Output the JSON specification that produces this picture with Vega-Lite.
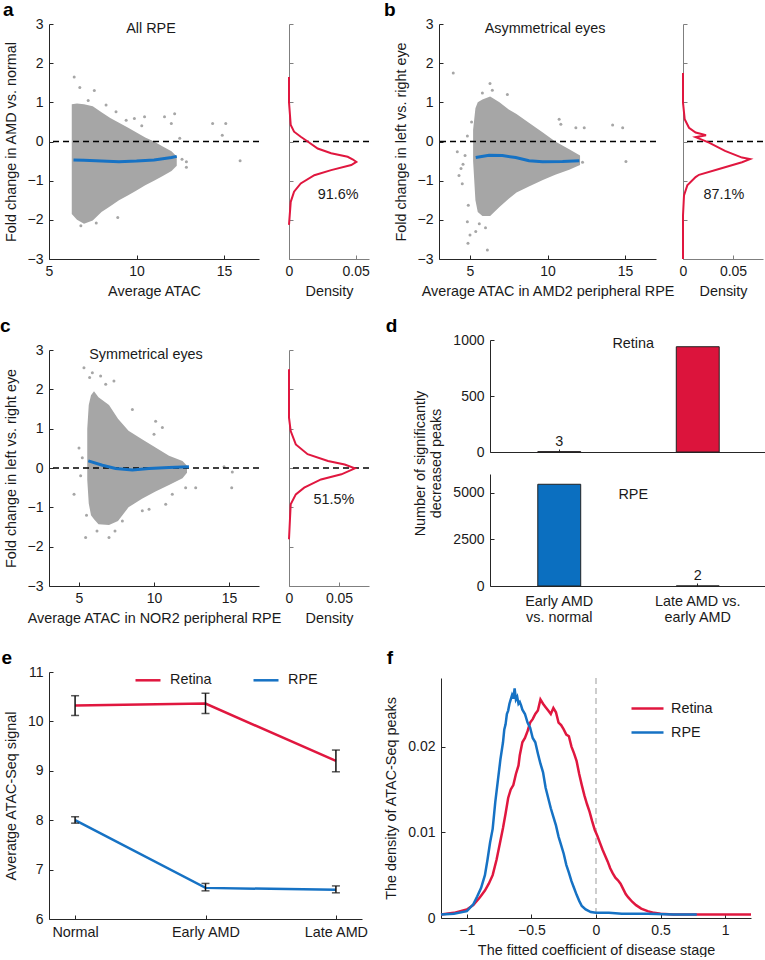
{
  "$schema": "https://vega.github.io/schema/vega-lite/v6.json",
  "padding": {"left": 0, "top": 1, "right": 0, "bottom": 0},
  "background": "white",
  "config": {
    "font": "Liberation Sans",
    "view": {"stroke": null},
    "axis": {"labelOverlap": false, "labelFontSize": 14, "titleFontSize": 14.4, "tickCount": 12},
    "title": {"fontSize": 19, "fontWeight": "bold", "anchor": "start", "frame": "bounds", "color": "black", "baseline": "alphabetic", "offset": -3},
    "legend": {"labelFontSize": 14.4, "labelColor": "#1a1a1a"}
  },
  "resolve": {"scale": {"color": "independent"}, "legend": {"color": "independent"}},
  "datasets": {
    "cloudA": [
      {"x": 6.3, "lo": -1.85, "hi": 0.95}, {"x": 6.6, "lo": -2.0, "hi": 0.97}, {"x": 7.0, "lo": -2.1, "hi": 0.95}, {"x": 7.5, "lo": -2.02, "hi": 0.9},
      {"x": 8.0, "lo": -1.8, "hi": 0.75}, {"x": 8.5, "lo": -1.65, "hi": 0.6}, {"x": 9.0, "lo": -1.5, "hi": 0.48}, {"x": 9.5, "lo": -1.38, "hi": 0.36},
      {"x": 10.0, "lo": -1.25, "hi": 0.23}, {"x": 10.5, "lo": -1.12, "hi": 0.1}, {"x": 11.0, "lo": -1.0, "hi": 0.0}, {"x": 11.5, "lo": -0.88, "hi": -0.13},
      {"x": 12.0, "lo": -0.75, "hi": -0.25}, {"x": 12.3, "lo": -0.62, "hi": -0.38}
    ],
    "outA": [
      {"x": 6.44, "y": 1.65}, {"x": 6.76, "y": 1.38}, {"x": 7.59, "y": 1.3}, {"x": 7.24, "y": 1.05}, {"x": 8.26, "y": 0.93}, {"x": 8.83, "y": 0.76},
      {"x": 9.41, "y": 0.54}, {"x": 9.88, "y": 0.59}, {"x": 10.46, "y": 0.63}, {"x": 11.6, "y": 0.63}, {"x": 12.18, "y": 0.71}, {"x": 12.47, "y": 0.08},
      {"x": 12.85, "y": -0.52}, {"x": 12.85, "y": -0.66}, {"x": 14.35, "y": 0.46}, {"x": 15.1, "y": 0.46}, {"x": 14.9, "y": 0.16}, {"x": 15.92, "y": -0.49},
      {"x": 11.99, "y": 0.46}, {"x": 8.93, "y": -1.94}, {"x": 6.82, "y": -2.15}, {"x": 7.7, "y": -2.08}, {"x": 10.3, "y": 0.4}, {"x": 12.6, "y": -0.45}
    ],
    "loessA": [
      {"x": 6.4, "y": -0.47}, {"x": 7.0, "y": -0.48}, {"x": 8.0, "y": -0.5}, {"x": 9.0, "y": -0.52}, {"x": 10.0, "y": -0.5}, {"x": 11.0, "y": -0.47}, {"x": 12.0, "y": -0.41}, {"x": 12.3, "y": -0.38}
    ],
    "densA": [
      {"d": 0, "fc": 1.65}, {"d": 0, "fc": 1.0}, {"d": 0.0013, "fc": 0.42}, {"d": 0.0038, "fc": 0.25}, {"d": 0.0088, "fc": 0.12}, {"d": 0.014, "fc": 0.0},
      {"d": 0.0215, "fc": -0.18}, {"d": 0.0316, "fc": -0.3}, {"d": 0.044, "fc": -0.39}, {"d": 0.048, "fc": -0.46}, {"d": 0.0505, "fc": -0.52}, {"d": 0.0467, "fc": -0.6},
      {"d": 0.0316, "fc": -0.73}, {"d": 0.019, "fc": -0.86}, {"d": 0.0088, "fc": -1.07}, {"d": 0.0038, "fc": -1.28}, {"d": 0.0013, "fc": -1.54}, {"d": 0, "fc": -2.13}
    ],
    "cloudB": [
      {"x": 5.2, "lo": -0.5, "hi": 0.3}, {"x": 5.35, "lo": -1.5, "hi": 0.85}, {"x": 5.5, "lo": -1.8, "hi": 1.0}, {"x": 5.8, "lo": -1.9, "hi": 1.07},
      {"x": 6.3, "lo": -1.9, "hi": 1.15}, {"x": 6.9, "lo": -1.67, "hi": 1.0}, {"x": 7.5, "lo": -1.46, "hi": 0.82}, {"x": 8.0, "lo": -1.3, "hi": 0.7},
      {"x": 8.8, "lo": -1.15, "hi": 0.48}, {"x": 9.7, "lo": -0.98, "hi": 0.23}, {"x": 10.5, "lo": -0.85, "hi": 0.0}, {"x": 11.4, "lo": -0.72, "hi": -0.2},
      {"x": 12.1, "lo": -0.6, "hi": -0.36}
    ],
    "outB": [
      {"x": 3.92, "y": 1.75}, {"x": 4.18, "y": -0.26}, {"x": 4.68, "y": -0.36}, {"x": 4.83, "y": 0.14}, {"x": 4.55, "y": -0.58}, {"x": 4.42, "y": -0.69},
      {"x": 4.5, "y": -1.08}, {"x": 4.29, "y": -0.87}, {"x": 4.89, "y": -1.63}, {"x": 4.83, "y": -2.05}, {"x": 5.0, "y": -2.39}, {"x": 4.87, "y": -2.6},
      {"x": 6.12, "y": -2.77}, {"x": 5.37, "y": -2.3}, {"x": 6.29, "y": 1.48}, {"x": 6.44, "y": 1.31}, {"x": 7.41, "y": 1.2}, {"x": 5.8, "y": 1.24},
      {"x": 10.75, "y": 0.57}, {"x": 10.86, "y": 0.44}, {"x": 11.83, "y": 0.35}, {"x": 12.37, "y": 0.35}, {"x": 14.2, "y": 0.42}, {"x": 14.85, "y": 0.35},
      {"x": 15.06, "y": -0.51}, {"x": 12.26, "y": -0.53}, {"x": 5.6, "y": -2.1}, {"x": 6.0, "y": -2.2}, {"x": 5.1, "y": 0.5}
    ],
    "loessB": [
      {"x": 5.37, "y": -0.41}, {"x": 6.23, "y": -0.35}, {"x": 7.09, "y": -0.36}, {"x": 7.95, "y": -0.41}, {"x": 8.81, "y": -0.49}, {"x": 9.68, "y": -0.52}, {"x": 10.97, "y": -0.51}, {"x": 12.05, "y": -0.49}
    ],
    "densB": [
      {"d": 0, "fc": 1.75}, {"d": 0, "fc": 0.99}, {"d": 0.0017, "fc": 0.57}, {"d": 0.006, "fc": 0.35}, {"d": 0.0126, "fc": 0.23}, {"d": 0.0175, "fc": 0.2},
      {"d": 0.023, "fc": 0.16}, {"d": 0.0126, "fc": 0.11}, {"d": 0.0175, "fc": 0.06}, {"d": 0.026, "fc": -0.03}, {"d": 0.042, "fc": -0.24}, {"d": 0.059, "fc": -0.41},
      {"d": 0.067, "fc": -0.45}, {"d": 0.059, "fc": -0.53}, {"d": 0.036, "fc": -0.7}, {"d": 0.016, "fc": -0.85}, {"d": 0.0126, "fc": -0.91}, {"d": 0.0043, "fc": -1.12},
      {"d": 0.001, "fc": -1.38}, {"d": 0, "fc": -1.89}, {"d": 0, "fc": -3}
    ],
    "cloudC": [
      {"x": 5.55, "lo": -0.3, "hi": 1.0}, {"x": 5.65, "lo": -0.9, "hi": 1.6}, {"x": 5.8, "lo": -1.2, "hi": 1.85}, {"x": 6.0, "lo": -1.3, "hi": 1.95},
      {"x": 6.3, "lo": -1.43, "hi": 1.8}, {"x": 7.0, "lo": -1.45, "hi": 1.6}, {"x": 7.6, "lo": -1.35, "hi": 1.25}, {"x": 8.3, "lo": -1.0, "hi": 0.95},
      {"x": 9.2, "lo": -0.78, "hi": 0.73}, {"x": 10.1, "lo": -0.6, "hi": 0.52}, {"x": 11.0, "lo": -0.43, "hi": 0.31}, {"x": 11.9, "lo": -0.26, "hi": 0.18},
      {"x": 12.2, "lo": -0.12, "hi": 0.06}
    ],
    "outC": [
      {"x": 5.33, "y": 2.55}, {"x": 5.89, "y": 2.42}, {"x": 5.71, "y": 2.3}, {"x": 6.44, "y": 2.34}, {"x": 7.33, "y": 2.21}, {"x": 6.78, "y": 2.13},
      {"x": 8.56, "y": 1.49}, {"x": 10.11, "y": 1.19}, {"x": 10.0, "y": 0.86}, {"x": 10.56, "y": 1.03}, {"x": 4.67, "y": -0.67}, {"x": 5.22, "y": 0.26},
      {"x": 5.11, "y": -0.2}, {"x": 5.44, "y": -1.77}, {"x": 7.0, "y": -1.77}, {"x": 7.89, "y": -1.35}, {"x": 9.22, "y": -1.09}, {"x": 9.67, "y": -1.05},
      {"x": 10.78, "y": -0.92}, {"x": 11.22, "y": -0.67}, {"x": 12.11, "y": -0.5}, {"x": 12.78, "y": -0.5}, {"x": 14.67, "y": 0.03}, {"x": 15.22, "y": -0.1},
      {"x": 15.18, "y": -0.5}, {"x": 5.0, "y": 0.51}, {"x": 6.2, "y": -1.6}, {"x": 7.4, "y": -1.6}, {"x": 5.5, "y": -1.2}
    ],
    "loessC": [
      {"x": 5.62, "y": 0.18}, {"x": 6.56, "y": 0.07}, {"x": 7.44, "y": -0.01}, {"x": 8.56, "y": -0.05}, {"x": 9.67, "y": -0.01}, {"x": 11.0, "y": 0.01}, {"x": 12.33, "y": 0.03}
    ],
    "densC": [
      {"d": 0, "fc": 2.51}, {"d": 0, "fc": 1.28}, {"d": 0.0017, "fc": 0.94}, {"d": 0.0068, "fc": 0.6}, {"d": 0.0186, "fc": 0.35}, {"d": 0.039, "fc": 0.18},
      {"d": 0.0557, "fc": 0.09}, {"d": 0.0659, "fc": -0.01}, {"d": 0.0524, "fc": -0.16}, {"d": 0.032, "fc": -0.29}, {"d": 0.0152, "fc": -0.5}, {"d": 0.0068, "fc": -0.67},
      {"d": 0.0017, "fc": -0.92}, {"d": 0, "fc": -1.81}
    ],
    "retinaBars": [
      {"cmp": "Early AMD vs. normal", "n": 3}, {"cmp": "Late AMD vs. early AMD", "n": 940}
    ],
    "rpeBars": [
      {"cmp": "Early AMD vs. normal", "n": 5450}, {"cmp": "Late AMD vs. early AMD", "n": 2}
    ],
    "signal": [
      {"stage": "Normal", "tissue": "Retina", "mean": 10.32, "lo": 10.12, "hi": 10.52},
      {"stage": "Early AMD", "tissue": "Retina", "mean": 10.36, "lo": 10.16, "hi": 10.57},
      {"stage": "Late AMD", "tissue": "Retina", "mean": 9.2, "lo": 8.98, "hi": 9.42},
      {"stage": "Normal", "tissue": "RPE", "mean": 8.0, "lo": 7.94, "hi": 8.07},
      {"stage": "Early AMD", "tissue": "RPE", "mean": 6.63, "lo": 6.57, "hi": 6.72},
      {"stage": "Late AMD", "tissue": "RPE", "mean": 6.59, "lo": 6.53, "hi": 6.67}
    ],
    "curves": [
      {"tissue": "Retina", "coef": -1.2, "dens": 0.0004}, {"tissue": "Retina", "coef": -1.1, "dens": 0.0006}, {"tissue": "Retina", "coef": -1.0, "dens": 0.001},
      {"tissue": "Retina", "coef": -0.95, "dens": 0.0015}, {"tissue": "Retina", "coef": -0.9, "dens": 0.0024}, {"tissue": "Retina", "coef": -0.86, "dens": 0.0032},
      {"tissue": "Retina", "coef": -0.83, "dens": 0.004}, {"tissue": "Retina", "coef": -0.8, "dens": 0.005}, {"tissue": "Retina", "coef": -0.77, "dens": 0.0068},
      {"tissue": "Retina", "coef": -0.74, "dens": 0.009}, {"tissue": "Retina", "coef": -0.72, "dens": 0.0105}, {"tissue": "Retina", "coef": -0.7, "dens": 0.0122},
      {"tissue": "Retina", "coef": -0.68, "dens": 0.014}, {"tissue": "Retina", "coef": -0.66, "dens": 0.015}, {"tissue": "Retina", "coef": -0.64, "dens": 0.0155},
      {"tissue": "Retina", "coef": -0.62, "dens": 0.0168}, {"tissue": "Retina", "coef": -0.6, "dens": 0.0178}, {"tissue": "Retina", "coef": -0.59, "dens": 0.019},
      {"tissue": "Retina", "coef": -0.57, "dens": 0.0205}, {"tissue": "Retina", "coef": -0.55, "dens": 0.021}, {"tissue": "Retina", "coef": -0.53, "dens": 0.0218},
      {"tissue": "Retina", "coef": -0.51, "dens": 0.0228}, {"tissue": "Retina", "coef": -0.49, "dens": 0.0232}, {"tissue": "Retina", "coef": -0.47, "dens": 0.0238},
      {"tissue": "Retina", "coef": -0.45, "dens": 0.0242}, {"tissue": "Retina", "coef": -0.43, "dens": 0.0255}, {"tissue": "Retina", "coef": -0.41, "dens": 0.025},
      {"tissue": "Retina", "coef": -0.39, "dens": 0.0246}, {"tissue": "Retina", "coef": -0.37, "dens": 0.0242}, {"tissue": "Retina", "coef": -0.35, "dens": 0.0238},
      {"tissue": "Retina", "coef": -0.33, "dens": 0.0245}, {"tissue": "Retina", "coef": -0.31, "dens": 0.024}, {"tissue": "Retina", "coef": -0.29, "dens": 0.0228},
      {"tissue": "Retina", "coef": -0.27, "dens": 0.0225}, {"tissue": "Retina", "coef": -0.25, "dens": 0.022}, {"tissue": "Retina", "coef": -0.23, "dens": 0.0214},
      {"tissue": "Retina", "coef": -0.21, "dens": 0.0212}, {"tissue": "Retina", "coef": -0.19, "dens": 0.02}, {"tissue": "Retina", "coef": -0.17, "dens": 0.0192},
      {"tissue": "Retina", "coef": -0.15, "dens": 0.0183}, {"tissue": "Retina", "coef": -0.13, "dens": 0.0168}, {"tissue": "Retina", "coef": -0.11, "dens": 0.0155},
      {"tissue": "Retina", "coef": -0.09, "dens": 0.0143}, {"tissue": "Retina", "coef": -0.07, "dens": 0.0133}, {"tissue": "Retina", "coef": -0.05, "dens": 0.0124},
      {"tissue": "Retina", "coef": -0.03, "dens": 0.0113}, {"tissue": "Retina", "coef": -0.01, "dens": 0.0103}, {"tissue": "Retina", "coef": 0.01, "dens": 0.0096},
      {"tissue": "Retina", "coef": 0.03, "dens": 0.0088}, {"tissue": "Retina", "coef": 0.05, "dens": 0.008}, {"tissue": "Retina", "coef": 0.07, "dens": 0.0073},
      {"tissue": "Retina", "coef": 0.09, "dens": 0.0066}, {"tissue": "Retina", "coef": 0.11, "dens": 0.0058}, {"tissue": "Retina", "coef": 0.13, "dens": 0.0052},
      {"tissue": "Retina", "coef": 0.15, "dens": 0.0047}, {"tissue": "Retina", "coef": 0.17, "dens": 0.0044}, {"tissue": "Retina", "coef": 0.19, "dens": 0.004},
      {"tissue": "Retina", "coef": 0.21, "dens": 0.0034}, {"tissue": "Retina", "coef": 0.23, "dens": 0.0028}, {"tissue": "Retina", "coef": 0.25, "dens": 0.0024},
      {"tissue": "Retina", "coef": 0.28, "dens": 0.0019}, {"tissue": "Retina", "coef": 0.31, "dens": 0.0015}, {"tissue": "Retina", "coef": 0.35, "dens": 0.0011},
      {"tissue": "Retina", "coef": 0.4, "dens": 0.0008}, {"tissue": "Retina", "coef": 0.45, "dens": 0.0006}, {"tissue": "Retina", "coef": 0.5, "dens": 0.0005},
      {"tissue": "Retina", "coef": 0.6, "dens": 0.0004}, {"tissue": "Retina", "coef": 0.8, "dens": 0.0004}, {"tissue": "Retina", "coef": 1.0, "dens": 0.0004},
      {"tissue": "Retina", "coef": 1.2, "dens": 0.0004},
      {"tissue": "RPE", "coef": -1.2, "dens": 0.0004}, {"tissue": "RPE", "coef": -1.1, "dens": 0.0005}, {"tissue": "RPE", "coef": -1.0, "dens": 0.0008},
      {"tissue": "RPE", "coef": -0.95, "dens": 0.0016}, {"tissue": "RPE", "coef": -0.92, "dens": 0.0025}, {"tissue": "RPE", "coef": -0.89, "dens": 0.0035},
      {"tissue": "RPE", "coef": -0.86, "dens": 0.005}, {"tissue": "RPE", "coef": -0.84, "dens": 0.0068}, {"tissue": "RPE", "coef": -0.82, "dens": 0.0088},
      {"tissue": "RPE", "coef": -0.8, "dens": 0.0104}, {"tissue": "RPE", "coef": -0.78, "dens": 0.0135}, {"tissue": "RPE", "coef": -0.76, "dens": 0.016},
      {"tissue": "RPE", "coef": -0.74, "dens": 0.0185}, {"tissue": "RPE", "coef": -0.72, "dens": 0.0205}, {"tissue": "RPE", "coef": -0.71, "dens": 0.022},
      {"tissue": "RPE", "coef": -0.7, "dens": 0.0226}, {"tissue": "RPE", "coef": -0.69, "dens": 0.0238}, {"tissue": "RPE", "coef": -0.68, "dens": 0.0242},
      {"tissue": "RPE", "coef": -0.67, "dens": 0.025}, {"tissue": "RPE", "coef": -0.66, "dens": 0.0255}, {"tissue": "RPE", "coef": -0.65, "dens": 0.026},
      {"tissue": "RPE", "coef": -0.64, "dens": 0.0256}, {"tissue": "RPE", "coef": -0.63, "dens": 0.0268}, {"tissue": "RPE", "coef": -0.62, "dens": 0.0255},
      {"tissue": "RPE", "coef": -0.61, "dens": 0.0258}, {"tissue": "RPE", "coef": -0.6, "dens": 0.025}, {"tissue": "RPE", "coef": -0.59, "dens": 0.0252},
      {"tissue": "RPE", "coef": -0.58, "dens": 0.0248}, {"tissue": "RPE", "coef": -0.57, "dens": 0.0243}, {"tissue": "RPE", "coef": -0.55, "dens": 0.0238},
      {"tissue": "RPE", "coef": -0.53, "dens": 0.0228}, {"tissue": "RPE", "coef": -0.51, "dens": 0.0222}, {"tissue": "RPE", "coef": -0.49, "dens": 0.021},
      {"tissue": "RPE", "coef": -0.47, "dens": 0.0205}, {"tissue": "RPE", "coef": -0.45, "dens": 0.0192}, {"tissue": "RPE", "coef": -0.43, "dens": 0.018},
      {"tissue": "RPE", "coef": -0.41, "dens": 0.017}, {"tissue": "RPE", "coef": -0.39, "dens": 0.0152}, {"tissue": "RPE", "coef": -0.37, "dens": 0.014},
      {"tissue": "RPE", "coef": -0.35, "dens": 0.0128}, {"tissue": "RPE", "coef": -0.33, "dens": 0.0118}, {"tissue": "RPE", "coef": -0.31, "dens": 0.0108},
      {"tissue": "RPE", "coef": -0.29, "dens": 0.0095}, {"tissue": "RPE", "coef": -0.27, "dens": 0.0085}, {"tissue": "RPE", "coef": -0.25, "dens": 0.0075},
      {"tissue": "RPE", "coef": -0.23, "dens": 0.0062}, {"tissue": "RPE", "coef": -0.21, "dens": 0.0053}, {"tissue": "RPE", "coef": -0.19, "dens": 0.0043},
      {"tissue": "RPE", "coef": -0.17, "dens": 0.0035}, {"tissue": "RPE", "coef": -0.15, "dens": 0.0027}, {"tissue": "RPE", "coef": -0.13, "dens": 0.002},
      {"tissue": "RPE", "coef": -0.11, "dens": 0.0014}, {"tissue": "RPE", "coef": -0.08, "dens": 0.001}, {"tissue": "RPE", "coef": -0.04, "dens": 0.0007},
      {"tissue": "RPE", "coef": 0.0, "dens": 0.0006}, {"tissue": "RPE", "coef": 0.1, "dens": 0.0006}, {"tissue": "RPE", "coef": 0.2, "dens": 0.0005},
      {"tissue": "RPE", "coef": 0.4, "dens": 0.0005}, {"tissue": "RPE", "coef": 0.6, "dens": 0.0004}, {"tissue": "RPE", "coef": 0.78, "dens": 0.0004}
    ]
  },
  "spacing": 19,
  "vconcat": [
    {
      "spacing": 14,
      "hconcat": [
        {
          "title": {"text": "a"},
          "bounds": "flush",
          "spacing": 30,
          "hconcat": [
            {
              "width": 210, "height": 235,
              "layer": [
                {"data": {"name": "cloudA"}, "mark": {"type": "area", "color": "#a6a6a6"},
                 "encoding": {"x": {"field": "x", "type": "quantitative", "scale": {"domain": [5, 17]}, "axis": {"values": [5, 10, 15], "tickCount": 12, "format": "d", "title": "Average ATAC", "grid": false, "labelFontSize": 14, "titleFontSize": 14.4, "titleFontWeight": "normal", "labelColor": "#1a1a1a", "titleColor": "#1a1a1a", "domainColor": "#262626", "tickColor": "#262626", "tickSize": -4, "labelPadding": 9, "titlePadding": 6, "labelFlush": false, "labelOverlap": false}},
                              "y": {"field": "lo", "type": "quantitative", "scale": {"domain": [-3, 3]}, "axis": {"values": [-3, -2, -1, 0, 1, 2, 3], "tickCount": 12, "format": "d", "title": "Fold change in AMD vs. normal", "grid": false, "labelFontSize": 14, "titleFontSize": 14.4, "titleFontWeight": "normal", "labelColor": "#1a1a1a", "titleColor": "#1a1a1a", "domainColor": "#262626", "tickColor": "#262626", "tickSize": -4, "labelPadding": 10, "titlePadding": 9, "labelOverlap": false}},
                              "y2": {"field": "hi"}}},
                {"data": {"name": "outA"}, "mark": {"type": "circle", "color": "#a6a6a6", "size": 9, "opacity": 1},
                 "encoding": {"x": {"field": "x", "type": "quantitative"}, "y": {"field": "y", "type": "quantitative"}}},
                {"data": {"values": [{}]}, "mark": {"type": "rule", "color": "black", "strokeDash": [6, 4], "strokeWidth": 1.5},
                 "encoding": {"y": {"datum": 0}}},
                {"data": {"name": "loessA"}, "mark": {"type": "line", "color": "#1672c4", "strokeWidth": 3},
                 "encoding": {"x": {"field": "x", "type": "quantitative"}, "y": {"field": "y", "type": "quantitative"}}},
                {"data": {"values": [{}]}, "mark": {"type": "text", "fontSize": 14.4, "color": "#1a1a1a"},
                 "encoding": {"x": {"datum": 10.83}, "y": {"datum": 2.88}, "text": {"value": "All RPE"}}}
              ]
            },
            {
              "width": 80, "height": 235,
              "layer": [
                {"data": {"values": [{}]}, "mark": {"type": "rule", "color": "black", "strokeDash": [6, 4], "strokeWidth": 1.5},
                 "encoding": {"y": {"datum": 0}}},
                {"data": {"name": "densA"}, "mark": {"type": "line", "color": "#e0173f", "strokeWidth": 2},
                 "encoding": {"x": {"field": "d", "type": "quantitative", "scale": {"domain": [0, 0.06]}, "axis": {"values": [0, 0.05], "tickCount": 12, "format": "~g", "title": "Density", "grid": false, "labelFontSize": 14, "titleFontSize": 14.4, "titleFontWeight": "normal", "labelColor": "#1a1a1a", "titleColor": "#1a1a1a", "domainColor": "#7f7f7f", "tickColor": "#7f7f7f", "tickSize": -4, "labelPadding": 9, "titlePadding": 6, "labelFlush": false, "labelOverlap": false}},
                              "y": {"field": "fc", "type": "quantitative", "scale": {"domain": [-3, 3]}, "axis": {"values": [-3, -2, -1, 0, 1, 2, 3], "tickCount": 12, "labels": false, "title": null, "grid": false, "domainColor": "#7f7f7f", "tickColor": "#7f7f7f", "tickSize": -4}},
                              "order": {"field": "fc", "type": "quantitative"}}},
                {"data": {"values": [{}]}, "mark": {"type": "text", "fontSize": 14.4, "color": "#1a1a1a"},
                 "encoding": {"x": {"datum": 0.0368}, "y": {"datum": -1.36}, "text": {"value": "91.6%"}}}
              ]
            }
          ]
        },
        {
          "title": {"text": "b", "dx": -9},
          "bounds": "flush",
          "spacing": 27,
          "hconcat": [
            {
              "width": 217, "height": 235,
              "layer": [
                {"data": {"name": "cloudB"}, "mark": {"type": "area", "color": "#a6a6a6"},
                 "encoding": {"x": {"field": "x", "type": "quantitative", "scale": {"domain": [3, 17]}, "axis": {"values": [5, 10, 15], "tickCount": 12, "format": "d", "title": "Average ATAC in AMD2 peripheral RPE", "grid": false, "labelFontSize": 14, "titleFontSize": 14.4, "titleFontWeight": "normal", "labelColor": "#1a1a1a", "titleColor": "#1a1a1a", "domainColor": "#262626", "tickColor": "#262626", "tickSize": -4, "labelPadding": 9, "titlePadding": 6, "labelFlush": false, "labelOverlap": false}},
                              "y": {"field": "lo", "type": "quantitative", "scale": {"domain": [-3, 3]}, "axis": {"values": [-3, -2, -1, 0, 1, 2, 3], "tickCount": 12, "format": "d", "title": "Fold change in left vs. right eye", "grid": false, "labelFontSize": 14, "titleFontSize": 14.4, "titleFontWeight": "normal", "labelColor": "#1a1a1a", "titleColor": "#1a1a1a", "domainColor": "#262626", "tickColor": "#262626", "tickSize": -4, "labelPadding": 10, "titlePadding": 9, "labelOverlap": false}},
                              "y2": {"field": "hi"}}},
                {"data": {"name": "outB"}, "mark": {"type": "circle", "color": "#a6a6a6", "size": 9, "opacity": 1},
                 "encoding": {"x": {"field": "x", "type": "quantitative"}, "y": {"field": "y", "type": "quantitative"}}},
                {"data": {"values": [{}]}, "mark": {"type": "rule", "color": "black", "strokeDash": [6, 4], "strokeWidth": 1.5},
                 "encoding": {"y": {"datum": 0}}},
                {"data": {"name": "loessB"}, "mark": {"type": "line", "color": "#1672c4", "strokeWidth": 3},
                 "encoding": {"x": {"field": "x", "type": "quantitative"}, "y": {"field": "y", "type": "quantitative"}}},
                {"data": {"values": [{}]}, "mark": {"type": "text", "fontSize": 14.4, "color": "#1a1a1a"},
                 "encoding": {"x": {"datum": 9.84}, "y": {"datum": 2.88}, "text": {"value": "Asymmetrical eyes"}}}
              ]
            },
            {
              "width": 80, "height": 235,
              "layer": [
                {"data": {"values": [{}]}, "mark": {"type": "rule", "color": "black", "strokeDash": [6, 4], "strokeWidth": 1.5},
                 "encoding": {"y": {"datum": 0}}},
                {"data": {"name": "densB"}, "mark": {"type": "line", "color": "#e0173f", "strokeWidth": 2},
                 "encoding": {"x": {"field": "d", "type": "quantitative", "scale": {"domain": [0, 0.08]}, "axis": {"values": [0, 0.05], "tickCount": 12, "format": "~g", "title": "Density", "grid": false, "labelFontSize": 14, "titleFontSize": 14.4, "titleFontWeight": "normal", "labelColor": "#1a1a1a", "titleColor": "#1a1a1a", "domainColor": "#7f7f7f", "tickColor": "#7f7f7f", "tickSize": -4, "labelPadding": 9, "titlePadding": 6, "labelFlush": false, "labelOverlap": false}},
                              "y": {"field": "fc", "type": "quantitative", "scale": {"domain": [-3, 3]}, "axis": {"values": [-3, -2, -1, 0, 1, 2, 3], "tickCount": 12, "labels": false, "title": null, "grid": false, "domainColor": "#7f7f7f", "tickColor": "#7f7f7f", "tickSize": -4}},
                              "order": {"field": "fc", "type": "quantitative", "sort": "descending"}}},
                {"data": {"values": [{}]}, "mark": {"type": "text", "fontSize": 14.4, "color": "#1a1a1a"},
                 "encoding": {"x": {"datum": 0.041}, "y": {"datum": -1.36}, "text": {"value": "87.1%"}}}
              ]
            }
          ]
        }
      ]
    },
    {
      "spacing": 24,
      "vconcat": [
        {
          "spacing": 15,
          "hconcat": [
            {
              "title": {"text": "c", "dx": -3, "offset": 4},
              "bounds": "flush",
              "spacing": 9,
              "vconcat": [
                {"width": 1, "height": 1, "data": {"values": [{}]}, "mark": {"type": "point", "size": 0, "opacity": 0}},
                {
                  "bounds": "flush",
                  "spacing": 30,
                  "hconcat": [
                    {
                      "width": 210, "height": 236,
                      "layer": [
                        {"data": {"name": "cloudC"}, "mark": {"type": "area", "color": "#a6a6a6"},
                         "encoding": {"x": {"field": "x", "type": "quantitative", "scale": {"domain": [3, 17]}, "axis": {"values": [5, 10, 15], "tickCount": 12, "format": "d", "title": "Average ATAC in NOR2 peripheral RPE", "grid": false, "labelFontSize": 14, "titleFontSize": 14.4, "titleFontWeight": "normal", "labelColor": "#1a1a1a", "titleColor": "#1a1a1a", "domainColor": "#262626", "tickColor": "#262626", "tickSize": -4, "labelPadding": 9, "titlePadding": 6, "labelFlush": false, "labelOverlap": false}},
                                      "y": {"field": "lo", "type": "quantitative", "scale": {"domain": [-3, 3]}, "axis": {"values": [-3, -2, -1, 0, 1, 2, 3], "tickCount": 12, "format": "d", "title": "Fold change in left vs. right eye", "grid": false, "labelFontSize": 14, "titleFontSize": 14.4, "titleFontWeight": "normal", "labelColor": "#1a1a1a", "titleColor": "#1a1a1a", "domainColor": "#262626", "tickColor": "#262626", "tickSize": -4, "labelPadding": 10, "titlePadding": 9, "labelOverlap": false}},
                                      "y2": {"field": "hi"}}},
                        {"data": {"name": "outC"}, "mark": {"type": "circle", "color": "#a6a6a6", "size": 9, "opacity": 1},
                         "encoding": {"x": {"field": "x", "type": "quantitative"}, "y": {"field": "y", "type": "quantitative"}}},
                        {"data": {"values": [{}]}, "mark": {"type": "rule", "color": "black", "strokeDash": [6, 4], "strokeWidth": 1.5},
                         "encoding": {"y": {"datum": 0}}},
                        {"data": {"name": "loessC"}, "mark": {"type": "line", "color": "#1672c4", "strokeWidth": 3},
                         "encoding": {"x": {"field": "x", "type": "quantitative"}, "y": {"field": "y", "type": "quantitative"}}},
                        {"data": {"values": [{}]}, "mark": {"type": "text", "fontSize": 14.4, "color": "#1a1a1a"},
                         "encoding": {"x": {"datum": 9.47}, "y": {"datum": 2.88}, "text": {"value": "Symmetrical eyes"}}}
                      ]
                    },
                    {
                      "width": 80, "height": 236,
                      "layer": [
                        {"data": {"values": [{}]}, "mark": {"type": "rule", "color": "black", "strokeDash": [6, 4], "strokeWidth": 1.5},
                         "encoding": {"y": {"datum": 0}}},
                        {"data": {"name": "densC"}, "mark": {"type": "line", "color": "#e0173f", "strokeWidth": 2},
                         "encoding": {"x": {"field": "d", "type": "quantitative", "scale": {"domain": [0, 0.08]}, "axis": {"values": [0, 0.05], "tickCount": 12, "format": "~g", "title": "Density", "grid": false, "labelFontSize": 14, "titleFontSize": 14.4, "titleFontWeight": "normal", "labelColor": "#1a1a1a", "titleColor": "#1a1a1a", "domainColor": "#7f7f7f", "tickColor": "#7f7f7f", "tickSize": -4, "labelPadding": 9, "titlePadding": 6, "labelFlush": false, "labelOverlap": false}},
                                      "y": {"field": "fc", "type": "quantitative", "scale": {"domain": [-3, 3]}, "axis": {"values": [-3, -2, -1, 0, 1, 2, 3], "tickCount": 12, "labels": false, "title": null, "grid": false, "domainColor": "#7f7f7f", "tickColor": "#7f7f7f", "tickSize": -4}},
                                      "order": {"field": "fc", "type": "quantitative"}}},
                        {"data": {"values": [{}]}, "mark": {"type": "text", "fontSize": 14.4, "color": "#1a1a1a"},
                         "encoding": {"x": {"datum": 0.045}, "y": {"datum": -0.82}, "text": {"value": "51.5%"}}}
                      ]
                    }
                  ]
                }
              ]
            },
            {
              "title": {"text": "d", "dx": -27},
              "bounds": "flush",
              "spacing": 22,
              "vconcat": [
                {
                  "width": 277, "height": 112,
                  "data": {"name": "retinaBars"},
                  "layer": [
                    {"mark": {"type": "bar", "width": {"band": 0.31}, "color": "#dc143c", "stroke": "#222222", "strokeWidth": 1},
                     "encoding": {"x": {"field": "cmp", "type": "nominal", "sort": null, "scale": {"paddingInner": 0, "paddingOuter": 0}, "axis": {"labels": false, "title": null, "tickSize": -3, "grid": false, "domainColor": "#262626", "tickColor": "#262626"}},
                                  "y": {"field": "n", "type": "quantitative", "scale": {"domain": [0, 1000]}, "axis": {"values": [0, 500, 1000], "tickCount": 12, "format": "d", "title": ["Number of significantly", "decreased peaks"], "titleY": 123, "titleLineHeight": 16, "grid": false, "labelFontSize": 14, "titleFontSize": 14.4, "titleFontWeight": "normal", "labelColor": "#1a1a1a", "titleColor": "#1a1a1a", "domainColor": "#262626", "tickColor": "#262626", "tickSize": -4, "labelPadding": 10, "titlePadding": 9, "labelOverlap": false}}}},
                    {"transform": [{"filter": "datum.n < 10"}], "mark": {"type": "text", "baseline": "bottom", "dy": -3, "fontSize": 14.4, "color": "#1a1a1a"},
                     "encoding": {"x": {"field": "cmp", "type": "nominal", "sort": null}, "y": {"field": "n", "type": "quantitative"}, "text": {"field": "n"}}},
                    {"data": {"values": [{}]}, "mark": {"type": "text", "fontSize": 14.4, "color": "#1a1a1a", "dx": 74},
                     "encoding": {"x": {"datum": "Early AMD vs. normal"}, "y": {"datum": 964}, "text": {"value": "Retina"}}}
                  ]
                },
                {
                  "width": 277, "height": 112,
                  "data": {"name": "rpeBars"},
                  "layer": [
                    {"mark": {"type": "bar", "width": {"band": 0.31}, "color": "#0b6fc0", "stroke": "#222222", "strokeWidth": 1},
                     "encoding": {"x": {"field": "cmp", "type": "nominal", "sort": null, "scale": {"paddingInner": 0, "paddingOuter": 0},
                                        "axis": {"title": null, "tickSize": -3, "labelAngle": 0, "labelPadding": 11, "labelLineHeight": 16, "labelFontSize": 14.4, "labelColor": "#1a1a1a", "grid": false, "domainColor": "#262626", "tickColor": "#262626",
                                                 "labelExpr": "datum.value == 'Early AMD vs. normal' ? ['Early AMD', 'vs. normal'] : ['Late AMD vs.', 'early AMD']"}},
                                  "y": {"field": "n", "type": "quantitative", "scale": {"domain": [0, 5600]}, "axis": {"values": [0, 2500, 5000], "tickCount": 12, "format": "d", "title": null, "grid": false, "labelFontSize": 14, "labelColor": "#1a1a1a", "domainColor": "#262626", "tickColor": "#262626", "tickSize": -4, "labelPadding": 10, "labelOverlap": false}}}},
                    {"transform": [{"filter": "datum.n < 10"}], "mark": {"type": "text", "baseline": "bottom", "dy": -3, "fontSize": 14.4, "color": "#1a1a1a"},
                     "encoding": {"x": {"field": "cmp", "type": "nominal", "sort": null}, "y": {"field": "n", "type": "quantitative"}, "text": {"field": "n"}}},
                    {"data": {"values": [{}]}, "mark": {"type": "text", "fontSize": 14.4, "color": "#1a1a1a", "dx": 74},
                     "encoding": {"x": {"datum": "Early AMD vs. normal"}, "y": {"datum": 4900}, "text": {"value": "RPE"}}}
                  ]
                }
              ]
            }
          ]
        },
        {
          "spacing": 15,
          "resolve": {"scale": {"color": "independent"}, "legend": {"color": "independent"}},
          "hconcat": [
            {
              "title": {"text": "e", "dx": -2},
              "width": 313, "height": 247,
              "data": {"name": "signal"},
              "layer": [
                {"mark": {"type": "line", "strokeWidth": 2.5},
                 "encoding": {"x": {"field": "stage", "type": "ordinal", "sort": ["Normal", "Early AMD", "Late AMD"], "scale": {"type": "point", "padding": 0.2}, "axis": {"title": null, "labelAngle": 0, "labelFontSize": 14.4, "labelColor": "#1a1a1a", "grid": false, "domainColor": "#262626", "tickColor": "#262626", "tickSize": -4, "labelPadding": 10}},
                              "y": {"field": "mean", "type": "quantitative", "scale": {"domain": [6, 11]}, "axis": {"values": [6, 7, 8, 9, 10, 11], "tickCount": 12, "format": "d", "title": "Averatge ATAC-Seq signal", "grid": false, "labelFontSize": 14, "titleFontSize": 14.4, "titleFontWeight": "normal", "labelColor": "#1a1a1a", "titleColor": "#1a1a1a", "domainColor": "#262626", "tickColor": "#262626", "tickSize": -4, "labelPadding": 10, "titlePadding": 9, "labelOverlap": false}},
                              "color": {"field": "tissue", "type": "nominal", "scale": {"domain": ["Retina", "RPE"], "range": ["#e0173f", "#1672c4"]},
                                        "legend": {"orient": "none", "legendX": 85, "legendY": -6, "direction": "horizontal", "title": null, "symbolType": "stroke", "symbolSize": 625, "symbolStrokeWidth": 2.5, "columnPadding": 36, "labelOffset": 8}}}},
                {"mark": {"type": "rule", "color": "#111111", "strokeWidth": 1.5},
                 "encoding": {"x": {"field": "stage", "type": "ordinal", "sort": ["Normal", "Early AMD", "Late AMD"]}, "y": {"field": "lo", "type": "quantitative"}, "y2": {"field": "hi"}}},
                {"mark": {"type": "tick", "color": "#111111", "size": 8, "thickness": 1.5},
                 "encoding": {"x": {"field": "stage", "type": "ordinal", "sort": ["Normal", "Early AMD", "Late AMD"]}, "y": {"field": "lo", "type": "quantitative"}}},
                {"mark": {"type": "tick", "color": "#111111", "size": 8, "thickness": 1.5},
                 "encoding": {"x": {"field": "stage", "type": "ordinal", "sort": ["Normal", "Early AMD", "Late AMD"]}, "y": {"field": "hi", "type": "quantitative"}}}
              ]
            },
            {
              "title": {"text": "f", "dx": 3, "offset": 4},
              "bounds": "flush",
              "spacing": 5,
              "vconcat": [
                {"width": 1, "height": 1, "data": {"values": [{}]}, "mark": {"type": "point", "size": 0, "opacity": 0}},
                {
                  "width": 310, "height": 240,
                  "layer": [
                    {"data": {"values": [{}]}, "mark": {"type": "rule", "color": "#bdbdbd", "strokeDash": [6, 4], "strokeWidth": 1.5},
                     "encoding": {"x": {"datum": 0}}},
                    {"data": {"name": "curves"}, "mark": {"type": "line", "strokeWidth": 2.5},
                     "encoding": {"x": {"field": "coef", "type": "quantitative", "scale": {"domain": [-1.2, 1.2]}, "axis": {"values": [-1, -0.5, 0, 0.5, 1], "tickCount": 12, "format": "~g", "title": "The fitted coefficient of disease stage", "grid": false, "labelFontSize": 14, "titleFontSize": 14.4, "titleFontWeight": "normal", "labelColor": "#1a1a1a", "titleColor": "#1a1a1a", "domainColor": "#262626", "tickColor": "#262626", "tickSize": -4, "labelPadding": 9, "titlePadding": 6, "labelFlush": false, "labelOverlap": false}},
                                  "y": {"field": "dens", "type": "quantitative", "scale": {"domain": [0, 0.028]}, "axis": {"values": [0, 0.01, 0.02], "tickCount": 12, "format": "~g", "title": "The density of ATAC-Seq peaks", "grid": false, "labelFontSize": 14, "titleFontSize": 14.4, "titleFontWeight": "normal", "labelColor": "#1a1a1a", "titleColor": "#1a1a1a", "domainColor": "#262626", "tickColor": "#262626", "tickSize": -4, "labelPadding": 10, "titlePadding": 9, "labelOverlap": false}},
                                  "color": {"field": "tissue", "type": "nominal", "scale": {"domain": ["Retina", "RPE"], "range": ["#e0173f", "#1672c4"]},
                                            "legend": {"orient": "none", "legendX": 189, "legendY": 19, "direction": "vertical", "title": null, "symbolType": "stroke", "symbolSize": 1024, "symbolStrokeWidth": 2.5, "rowPadding": -10, "labelOffset": 6}}}}
                  ]
                }
              ]
            }
          ]
        }
      ]
    }
  ]
}
